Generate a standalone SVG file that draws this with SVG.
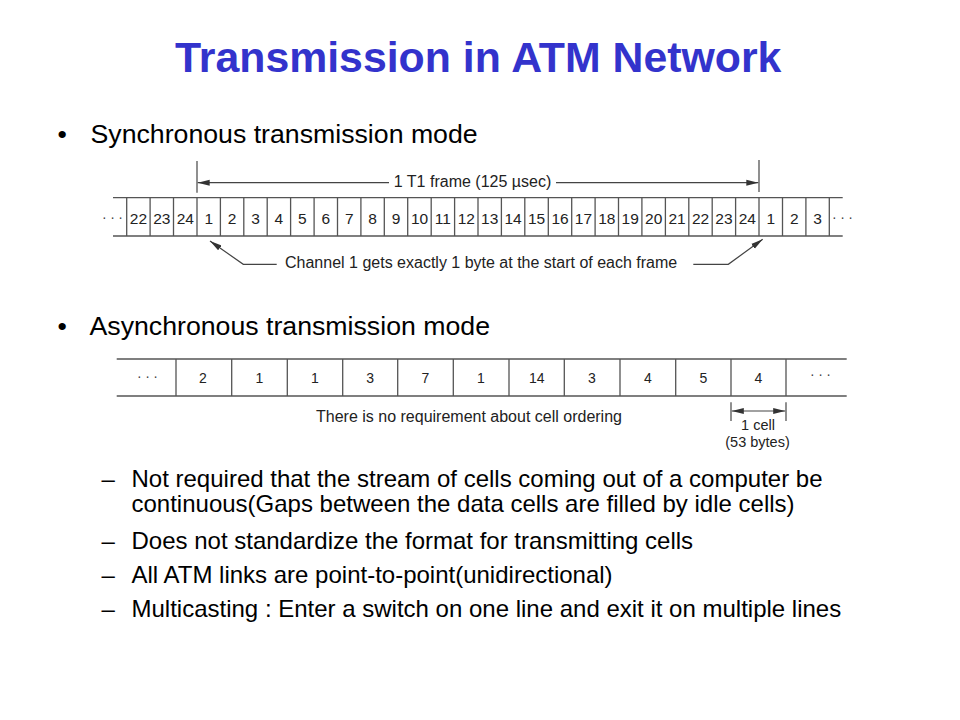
<svg xmlns="http://www.w3.org/2000/svg" width="960" height="720" viewBox="0 0 960 720">
  <style>
    .title { font-family: "Liberation Sans", Arial, sans-serif; font-weight: bold; font-size: 42.8px; fill: #3333CC; }
    .b1 { font-family: "Liberation Sans", Arial, sans-serif; font-size: 26.7px; fill: #000; }
    .b2 { font-family: "Liberation Sans", Arial, sans-serif; font-size: 24px; fill: #000; }
    .lbl { font-family: "Liberation Sans", Arial, sans-serif; font-size: 16px; fill: #222; }
    .sm { font-family: "Liberation Sans", Arial, sans-serif; font-size: 14.5px; fill: #222; text-anchor: middle; }
    .num { font-family: "Liberation Sans", Arial, sans-serif; font-size: 15.5px; fill: #222; text-anchor: middle; }
    .anum { font-family: "Liberation Sans", Arial, sans-serif; font-size: 14px; fill: #222; text-anchor: middle; }
    .dots { font-family: "Liberation Sans", Arial, sans-serif; font-size: 14px; fill: #444; letter-spacing: 3.5px; }
    .ln { stroke: #555; stroke-width: 1.3; fill: none; }
    .cn { stroke: #444; stroke-width: 1.2; fill: none; }
  </style>
  <defs>
    <marker id="ah" markerUnits="userSpaceOnUse" markerWidth="13" markerHeight="7" refX="12" refY="3.5" orient="auto-start-reverse">
      <path d="M0,0.5 L12,3.5 L0,6.5 Z" fill="#333"/>
    </marker>
  </defs>
  <rect width="960" height="720" fill="#fff"/>

  <g id="title">
    <text class="title" x="175" y="72">Transmission in ATM Network</text>
  </g>

  <g id="bullet-sync">
    <text class="b1" x="57.5" y="143.3">•</text>
    <text class="b1" x="90.5" y="143.3">Synchronous transmission mode</text>
  </g>

  <g id="sync-frame">
    <path class="ln" d="M113,197.7 H842.7 M113,236 H842.7"/>
    <path class="ln" d="M126.7,197.7V236 M150.1,197.7V236 M173.5,197.7V236 M197,197.7V236 M220.4,197.7V236 M243.8,197.7V236 M267.2,197.7V236 M290.6,197.7V236 M314.1,197.7V236 M337.5,197.7V236 M360.9,197.7V236 M384.3,197.7V236 M407.7,197.7V236 M431.2,197.7V236 M454.6,197.7V236 M478,197.7V236 M501.4,197.7V236 M524.8,197.7V236 M548.3,197.7V236 M571.7,197.7V236 M595.1,197.7V236 M618.5,197.7V236 M641.9,197.7V236 M665.4,197.7V236 M688.8,197.7V236 M712.2,197.7V236 M735.6,197.7V236 M759,197.7V236 M782.5,197.7V236 M805.9,197.7V236 M829.3,197.7V236"/>
    <text class="dots" x="102" y="222">···</text>
    <text class="dots" x="832" y="222">···</text>
    <g>
      <text class="num" x="138.4" y="223.5">22</text>
      <text class="num" x="161.8" y="223.5">23</text>
      <text class="num" x="185.3" y="223.5">24</text>
      <text class="num" x="208.7" y="223.5">1</text>
      <text class="num" x="232.1" y="223.5">2</text>
      <text class="num" x="255.5" y="223.5">3</text>
      <text class="num" x="278.9" y="223.5">4</text>
      <text class="num" x="302.4" y="223.5">5</text>
      <text class="num" x="325.8" y="223.5">6</text>
      <text class="num" x="349.2" y="223.5">7</text>
      <text class="num" x="372.6" y="223.5">8</text>
      <text class="num" x="396" y="223.5">9</text>
      <text class="num" x="419.5" y="223.5">10</text>
      <text class="num" x="442.9" y="223.5">11</text>
      <text class="num" x="466.3" y="223.5">12</text>
      <text class="num" x="489.7" y="223.5">13</text>
      <text class="num" x="513.1" y="223.5">14</text>
      <text class="num" x="536.6" y="223.5">15</text>
      <text class="num" x="560" y="223.5">16</text>
      <text class="num" x="583.4" y="223.5">17</text>
      <text class="num" x="606.8" y="223.5">18</text>
      <text class="num" x="630.2" y="223.5">19</text>
      <text class="num" x="653.7" y="223.5">20</text>
      <text class="num" x="677.1" y="223.5">21</text>
      <text class="num" x="700.5" y="223.5">22</text>
      <text class="num" x="723.9" y="223.5">23</text>
      <text class="num" x="747.3" y="223.5">24</text>
      <text class="num" x="770.8" y="223.5">1</text>
      <text class="num" x="794.2" y="223.5">2</text>
      <text class="num" x="817.6" y="223.5">3</text>
    </g>
    <path class="ln" d="M197,161 V192.7 M759,160 V192"/>
    <text class="lbl" x="472.5" y="187.3" text-anchor="middle">1 T1 frame (125 µsec)</text>
    <text class="lbl" x="285" y="268.3">Channel 1 gets exactly 1 byte at the start of each frame</text>
  </g>

  <g id="bullet-async">
    <text class="b1" x="57.5" y="335">•</text>
    <text class="b1" x="89.5" y="335">Asynchronous transmission mode</text>
  </g>

  <g id="async-frame">
    <path class="ln" d="M116.7,359 H846.7 M116.7,396 H846.7"/>
    <path class="ln" d="M176,359V396 M231.7,359V396 M287.3,359V396 M342.7,359V396 M397.7,359V396 M453.3,359V396 M509,359V396 M564.3,359V396 M620,359V396 M675.7,359V396 M731,359V396 M786,359V396"/>
    <text class="dots" x="137" y="381">···</text>
    <text class="dots" x="810" y="379">···</text>
    <text class="anum" x="203" y="383.3">2</text>
    <text class="anum" x="259.5" y="383.3">1</text>
    <text class="anum" x="315" y="383.3">1</text>
    <text class="anum" x="370.2" y="383.3">3</text>
    <text class="anum" x="425.5" y="383.3">7</text>
    <text class="anum" x="481" y="383.3">1</text>
    <text class="anum" x="536.7" y="383.3">14</text>
    <text class="anum" x="592" y="383.3">3</text>
    <text class="anum" x="647.8" y="383.3">4</text>
    <text class="anum" x="703.3" y="383.3">5</text>
    <text class="anum" x="758.5" y="383.3">4</text>
    <text class="lbl" x="469" y="422" text-anchor="middle">There is no requirement about cell ordering</text>
    <path class="ln" d="M731,402.3 V421 M786,402.3 V421"/>
    <text class="sm" x="758" y="429.5">1 cell</text>
    <text class="sm" x="757.5" y="446.5">(53 bytes)</text>
  </g>

  <g id="connectors">
    <line class="cn" x1="389" y1="182.7" x2="197.7" y2="182.7" marker-end="url(#ah)"/>
    <line class="cn" x1="556" y1="182.7" x2="758.3" y2="182.7" marker-end="url(#ah)"/>
    <polyline class="cn" points="276.7,264.3 243.3,264.3 210,241" marker-end="url(#ah)"/>
    <polyline class="cn" points="693.3,264.3 728.3,264.3 762.7,239.3" marker-end="url(#ah)"/>
    <line class="cn" x1="731.8" y1="411" x2="785.2" y2="411" marker-start="url(#ah)" marker-end="url(#ah)"/>
  </g>

  <g id="sub-bullets">
    <text class="b2" x="101.5" y="486.7">–</text>
    <text class="b2" x="131.5" y="486.7">Not required that the stream of cells coming out of a computer be</text>
    <text class="b2" x="131.5" y="511.7">continuous(Gaps between the data cells are filled by idle cells)</text>
    <text class="b2" x="101.5" y="549">–</text>
    <text class="b2" x="131.5" y="549">Does not standardize the format for transmitting cells</text>
    <text class="b2" x="101.5" y="582.5">–</text>
    <text class="b2" x="131.5" y="582.5">All ATM links are point-to-point(unidirectional)</text>
    <text class="b2" x="101.5" y="616.5">–</text>
    <text class="b2" x="131.5" y="616.5">Multicasting : Enter a switch on one line and exit it on multiple lines</text>
  </g>
</svg>
